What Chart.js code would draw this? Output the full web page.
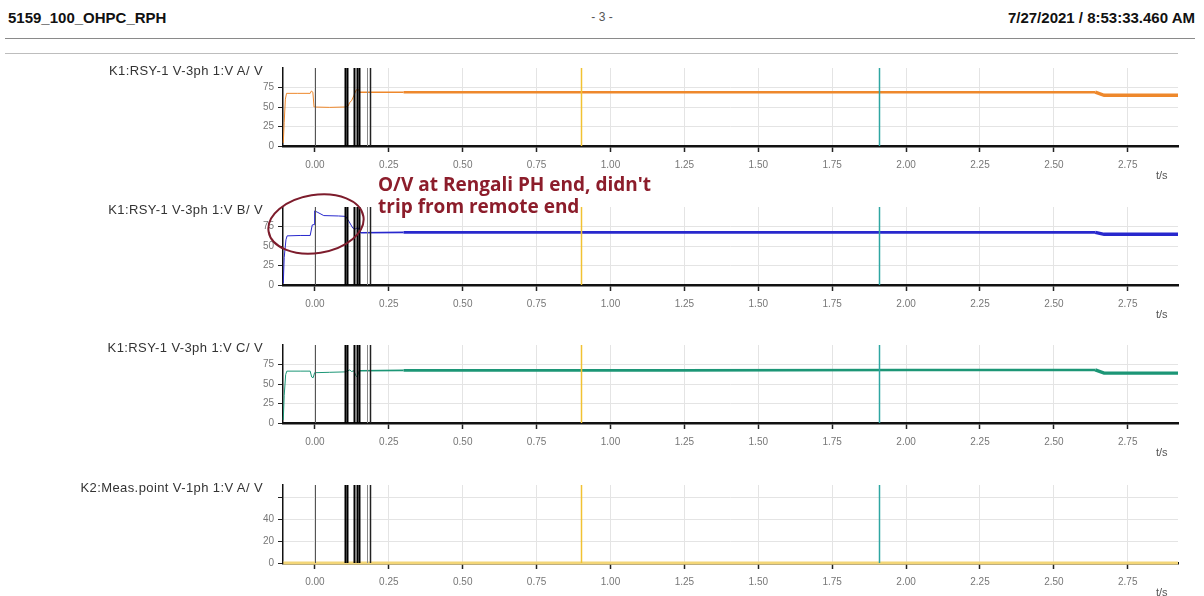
<!DOCTYPE html>
<html>
<head>
<meta charset="utf-8">
<title>5159_100_OHPC_RPH</title>
<script src="https://cdn.jsdelivr.net/npm/chart.js@4.4.1/dist/chart.umd.min.js"></script>
<style>
  html, body { margin: 0; padding: 0; background: #fff; }
  body { width: 1204px; height: 596px; position: relative; overflow: hidden;
         font-family: "Liberation Sans", Arial, sans-serif; }
  .abs { position: absolute; white-space: nowrap; }
  .hdr { font-weight: bold; font-size: 15px; color: #111; top: 9px; }
  .rule { position: absolute; height: 0; }
  .ptitle { position: absolute; font-size: 13px; letter-spacing: 0.4px; color: #333; text-align: right;
            white-space: nowrap; line-height: 14px; }
  .unit { position: absolute; font-size: 11px; color: #555; }
  canvas { position: absolute; left: 0; }
  .note { position: absolute; left: 378px; font-family: "Open Sans", sans-serif; font-weight: bold;
          font-size: 19px; color: #8c1d2b; line-height: 22px; white-space: nowrap; }
</style>
</head>
<body>
<div class="abs hdr" style="left:8px">5159_100_OHPC_RPH</div>
<div class="abs" style="left:0;width:1204px;text-align:center;top:10px;font-size:12px;color:#555">- 3 -</div>
<div class="abs hdr" style="right:9px">7/27/2021 / 8:53:33.460 AM</div>
<div class="rule" style="left:5px;top:38px;width:1190px;border-top:1px solid #8a8a8a"></div>
<div class="rule" style="left:5px;top:53px;width:1173px;border-top:1px solid #bdbdbd"></div>

<canvas id="pA" width="1204" height="135"></canvas>
<canvas id="pB" width="1204" height="135"></canvas>
<canvas id="pC" width="1204" height="135"></canvas>
<canvas id="pD" width="1204" height="135"></canvas>

<svg class="abs" style="left:0;top:0" width="1204" height="596">
  <ellipse cx="316" cy="224" rx="48" ry="29" transform="rotate(-9 316 224)"
           fill="none" stroke="#7d1c2c" stroke-width="2"/>
</svg>
<div class="note" style="top:173px">O/V at Rengali PH end, didn't<br>trip from remote end</div>

<script>
// record window, seconds
var T_MIN = -0.108;
var T_MAX = 2.92;
var xTickValues = [0, 0.25, 0.5, 0.75, 1.0, 1.25, 1.5, 1.75, 2.0, 2.25, 2.5, 2.75];

// K1:RSY-1 V-3ph 1:V A
var timeA = [-0.107, -0.104, -0.100, -0.096, -0.06, -0.016, -0.012, -0.007, -0.003, 0.05, 0.100, 0.112, 0.118, 0.124, 0.132, 0.140, 0.146, 0.152, 0.30, 1.20, 2.00, 2.64, 2.67, 2.92];
var voltA = [4, 30, 60, 67.5, 67.5, 67.5, 70.5, 69, 50, 49.5, 50, 51, 56, 58, 65, 72, 73, 69, 69, 69, 69, 69, 65, 65];

// K1:RSY-1 V-3ph 1:V B
var timeB = [-0.107, -0.104, -0.098, -0.094, -0.05, -0.016, -0.009, -0.003, -0.001, 0.01, 0.03, 0.08, 0.104, 0.116, 0.128, 0.138, 0.145, 0.155, 0.30, 1.20, 2.00, 2.64, 2.67, 2.92];
var voltB = [2, 35, 58, 63, 63.5, 63.5, 77, 77.5, 95, 93, 89, 88.5, 88, 81, 73, 72, 74, 67, 67.5, 67.5, 67.5, 67.5, 65, 65];

// K1:RSY-1 V-3ph 1:V C
var timeC = [-0.107, -0.104, -0.099, -0.095, -0.05, -0.016, -0.011, -0.006, -0.001, 0.05, 0.10, 0.112, 0.118, 0.124, 0.132, 0.138, 0.143, 0.150, 0.30, 1.20, 2.00, 2.64, 2.67, 2.92];
var voltC = [4, 35, 62, 66.5, 66.5, 66.5, 59, 58, 64.5, 65, 65.5, 67, 68, 66, 67, 61, 59, 67, 67.5, 67.5, 68, 68, 64, 64];

// K2:Meas.point V-1ph 1:V A
var timeD = [-0.107, 2.92];
var voltD = [0, 0];

// binary/trigger markers, seconds
var markerTimes = [0, 0.101, 0.110, 0.133, 0.141, 0.149, 0.175, 0.188, 0.90, 1.91];
var markerStyles = [
    { color: '#555', width: 1 },
    { color: '#000', width: 2 },
    { color: '#000', width: 2 },
    { color: '#000', width: 2 },
    { color: '#000', width: 2 },
    { color: '#000', width: 2 },
    { color: '#888', width: 1 },
    { color: '#222', width: 1.5 },
    { color: '#f1c232', width: 1.5 },
    { color: '#2ea6a2', width: 1.5 }
];

var PLOT_H = 78;
var PAD_TOP = 12;
var AXIS_H = 45;

var markerPlugin = {
    id: 'markers',
    afterDatasetsDraw: function(chart) {
        var ctx = chart.ctx;
        var area = chart.chartArea;
        var x = chart.scales.x;
        ctx.save();
        for (var i = 0; i < markerTimes.length; i++) {
            var px = Math.round(x.getPixelForValue(markerTimes[i])) + 0.5;
            ctx.strokeStyle = markerStyles[i].color;
            ctx.lineWidth = markerStyles[i].width;
            ctx.beginPath();
            ctx.moveTo(px, area.top);
            ctx.lineTo(px, area.bottom);
            ctx.stroke();
        }
        ctx.restore();
    }
};

// the steady-state ripple shows up as a band, a bit wider after the last step
function bandWidth(t) {
    if (t < 0.15) return 1;
    if (t < 0.3) return 1.6;
    if (t < 2.64) return 2.6;
    return 3.4;
}

function addLabel(cls, css, text) {
    var d = document.createElement('div');
    d.className = cls;
    d.style.cssText = css;
    d.textContent = text;
    document.body.appendChild(d);
}

function buildPanel(id, top, title, times, volts, color, yMax, yTicks, hiddenLabels, lineOpts) {
    var canvas = document.getElementById(id);
    canvas.style.top = (top - PAD_TOP) + 'px';

    addLabel('ptitle', 'right:' + (1204 - 263) + 'px;top:' + (top - 4) + 'px', title);
    addLabel('unit', 'left:1156px;top:' + (top + PLOT_H + 23) + 'px', 't/s');

    var points = times.map(function(t, i) { return { x: t, y: volts[i] }; });
    var tickFont = { family: '"Liberation Sans", Arial, sans-serif', size: 10 };

    return new Chart(canvas, {
        type: 'line',
        data: {
            datasets: [Object.assign({
                data: points,
                borderColor: color,
                borderWidth: 1,
                pointRadius: 0,
                tension: 0,
                clip: 4,
                segment: { borderWidth: function(c) { return bandWidth(c.p0.parsed.x); } }
            }, lineOpts || {})]
        },
        options: {
            responsive: false,
            animation: false,
            devicePixelRatio: 1,
            events: [],
            layout: { padding: { top: PAD_TOP, right: 26, left: 0, bottom: 0 } },
            plugins: { legend: { display: false }, tooltip: { enabled: false } },
            scales: {
                x: {
                    type: 'linear',
                    min: T_MIN,
                    max: T_MAX,
                    afterBuildTicks: function(s) { s.ticks = xTickValues.map(function(v) { return { value: v }; }); },
                    afterFit: function(s) { s.height = AXIS_H; },
                    grid: { color: '#e4e4e4', tickColor: '#222', tickLength: 6, tickWidth: 1.5 },
                    border: { color: '#111', width: 2.5 },
                    ticks: {
                        font: tickFont, color: '#777', padding: 7, maxRotation: 0, autoSkip: false,
                        callback: function(v) { return v.toFixed(2); }
                    }
                },
                y: {
                    min: 0,
                    max: yMax,
                    afterBuildTicks: function(s) { s.ticks = yTicks.map(function(v) { return { value: v }; }); },
                    afterFit: function(s) { s.width = 283; },
                    grid: { color: '#e4e4e4', tickColor: '#222', tickLength: 5, tickWidth: 1 },
                    border: { color: '#111', width: 1.5 },
                    ticks: {
                        font: tickFont, color: '#777', padding: 4,
                        callback: function(v) { return hiddenLabels.indexOf(v) >= 0 ? '' : String(v); }
                    }
                }
            }
        },
        plugins: [markerPlugin]
    });
}

buildPanel('pA', 68,  'K1:RSY-1 V-3ph 1:V A/ V', timeA, voltA, 'rgb(238,136,44)', 100, [0, 25, 50, 75], []);
buildPanel('pB', 207, 'K1:RSY-1 V-3ph 1:V B/ V', timeB, voltB, 'rgb(40,40,205)', 100, [0, 25, 50, 75], []);
buildPanel('pC', 345, 'K1:RSY-1 V-3ph 1:V C/ V', timeC, voltC, 'rgb(28,150,118)', 100, [0, 25, 50, 75], []);
buildPanel('pD', 485, 'K2:Meas.point V-1ph 1:V A/ V', timeD, voltD, 'rgb(243,214,120)', 71, [0, 20, 40, 60], [60],
    { borderWidth: 3, segment: {} });
</script>
</body>
</html>
